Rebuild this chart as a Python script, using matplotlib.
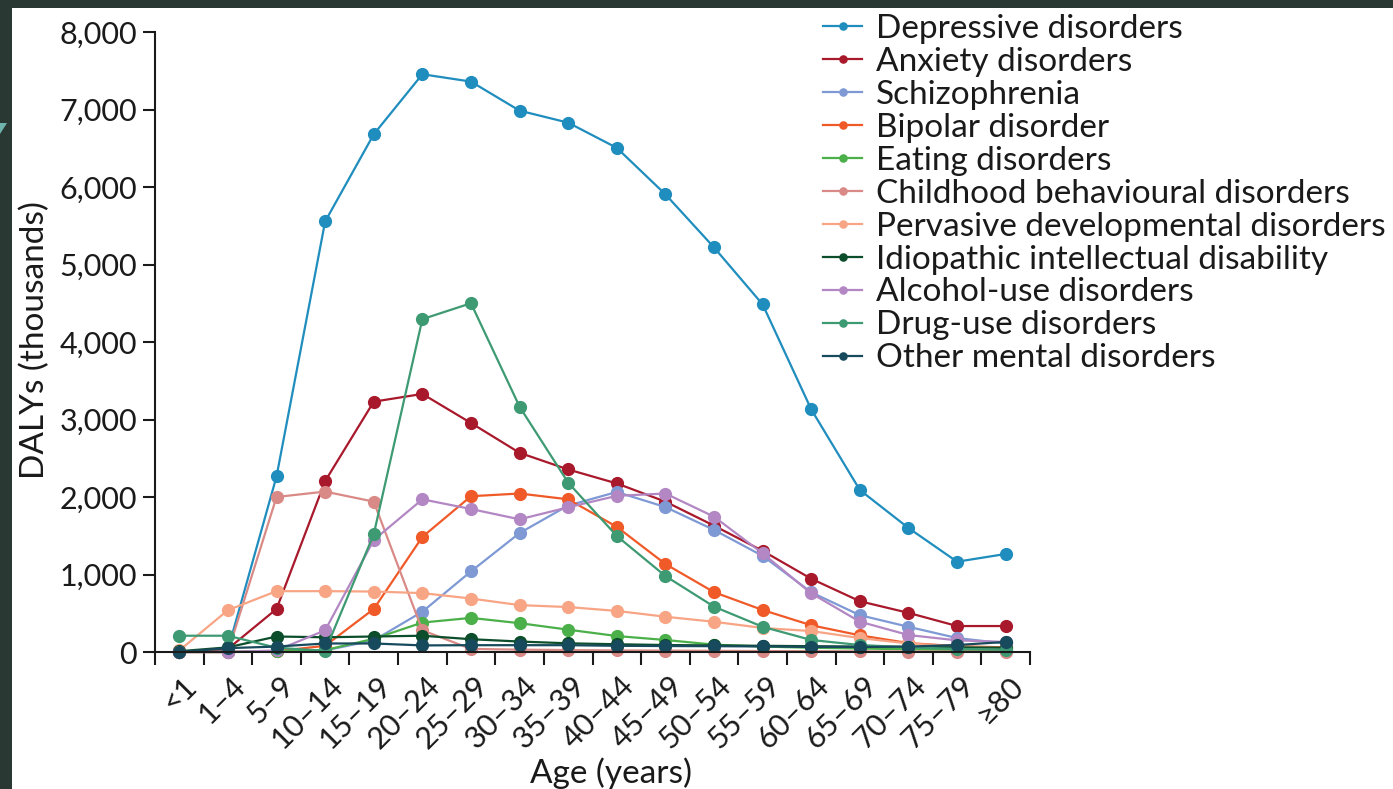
import numpy as np
import matplotlib
matplotlib.use("Agg")
import matplotlib.pyplot as plt
from matplotlib.patches import Rectangle, Polygon
from matplotlib.transforms import ScaledTranslation
from matplotlib.ticker import FuncFormatter

plt.rcParams['font.family'] = ['Lato', 'DejaVu Sans']

# Age groups
ages = ['<1', '1–4', '5–9', '10–14', '15–19', '20–24', '25–29', '30–34', '35–39',
        '40–44', '45–49', '50–54', '55–59', '60–64', '65–69', '70–74', '75–79', '≥80']

# DALYs (thousands) by disorder
depressive = [0, 30, 2265, 5555, 6680, 7455, 7360, 6985, 6830, 6505, 5905, 5220, 4485, 3130, 2090, 1600, 1165, 1265]
anxiety = [0, 40, 555, 2205, 3230, 3330, 2955, 2570, 2355, 2175, 1940, 1630, 1305, 945, 655, 505, 335, 335]
schizophrenia = [0, 0, 10, 20, 150, 520, 1040, 1535, 1890, 2065, 1870, 1575, 1240, 770, 475, 325, 180, 110]
bipolar = [0, 0, 10, 80, 555, 1485, 2010, 2045, 1970, 1615, 1135, 772, 542, 345, 215, 115, 75, 60]
eating = [0, 0, 10, 25, 170, 380, 440, 372, 288, 206, 155, 95, 70, 55, 45, 35, 25, 20]
childhood = [0, 0, 2000, 2070, 1940, 280, 40, 30, 25, 20, 18, 15, 12, 10, 8, 6, 5, 5]
pervasive = [20, 540, 785, 785, 780, 760, 690, 605, 580, 530, 455, 390, 310, 270, 180, 110, 70, 50]
idiopathic = [10, 60, 200, 190, 200, 210, 165, 135, 112, 100, 90, 85, 80, 75, 70, 65, 60, 55]
alcohol = [0, 0, 20, 280, 1445, 1970, 1845, 1712, 1867, 2015, 2045, 1746, 1273, 757, 391, 219, 150, 130]
drug = [210, 210, 55, 15, 1520, 4295, 4500, 3165, 2185, 1497, 980, 585, 325, 155, 90, 60, 40, 30]
other = [0, 50, 70, 110, 110, 85, 88, 88, 88, 80, 77, 75, 72, 65, 65, 70, 90, 130]

labels = ['Depressive disorders', 'Anxiety disorders', 'Schizophrenia', 'Bipolar disorder',
          'Eating disorders', 'Childhood behavioural disorders',
          'Pervasive developmental disorders', 'Idiopathic intellectual disability',
          'Alcohol-use disorders', 'Drug-use disorders', 'Other mental disorders']
colors = ['#1f8dbd', '#a8192c', '#7f99d5', '#f05a28', '#4cb04a', '#d98a86',
          '#f7a585', '#0c4d2b', '#b287c4', '#3d9a72', '#174a5c']
series = [depressive, anxiety, schizophrenia, bipolar, eating, childhood,
          pervasive, idiopathic, alcohol, drug, other]

W, H = 1393, 789
fig = plt.figure(figsize=(W / 100, H / 100), dpi=100)
fig.patch.set_facecolor('white')
ink = '#1a1a1a'

# dark frame along the top and left edges
frame = '#293833'
fig.add_artist(Rectangle((0, 1 - 8 / H), 1, 8 / H, transform=fig.transFigure,
                         facecolor=frame, edgecolor='none', zorder=0))
fig.add_artist(Rectangle((0, 0), 12 / W, 1, transform=fig.transFigure,
                         facecolor=frame, edgecolor='none', zorder=0))
fig.add_artist(Polygon([(0, 1 - 123 / H), (7 / W, 1 - 123 / H), (0, 1 - 134 / H)],
                       closed=True, transform=fig.transFigure,
                       facecolor='#6fb3ad', edgecolor='none', zorder=1))

ax = fig.add_axes([155 / W, 1 - 652 / H, (1030 - 155) / W, (652 - 32) / H])
x = np.arange(len(ages))
handles = []
for vals, col, lab in zip(series, colors, labels):
    h, = ax.plot(x, vals, '-o', color=col, lw=1.6, ms=9.5, mew=0,
                 clip_on=False, label=lab)
    handles.append(h)

ax.set_xlim(-0.5, len(ages) - 0.5)
ax.set_ylim(0, 8000)
for s in ['top', 'right']:
    ax.spines[s].set_visible(False)
for s in ['left', 'bottom']:
    ax.spines[s].set_linewidth(1.5)
    ax.spines[s].set_color(ink)

ax.set_yticks(np.arange(0, 8001, 1000))
ax.yaxis.set_major_formatter(FuncFormatter(lambda v, p: f'{int(v):,}'))
ax.tick_params(axis='y', length=9, width=1.5, labelsize=22, pad=4, colors=ink)

ax.set_xticks(x)
ax.set_xticklabels(ages)
ax.set_xticks(np.arange(-0.5, len(ages)), minor=True)
ax.tick_params(axis='x', which='major', length=0, pad=21, labelsize=22, colors=ink)
ax.tick_params(axis='x', which='minor', length=9, width=1.5, colors=ink)
shift = ScaledTranslation(13 / 100, 0, fig.dpi_scale_trans)
for t in ax.get_xticklabels():
    t.set_rotation(45)
    t.set_ha('right')
    t.set_va('center')
    t.set_rotation_mode('anchor')
    t.set_transform(t.get_transform() + shift)

fig.text(35 / W, 1 - 340 / H, 'DALYs (thousands)', rotation=90, ha='center',
         va='center', fontsize=24, color=ink)
fig.text(611 / W, 1 - 773 / H, 'Age (years)', ha='center', va='center',
         fontsize=24, color=ink)

fig.legend(handles=handles, loc='upper left', bbox_to_anchor=(823 / W, 1 - 14 / H),
           frameon=False, fontsize=24, handlelength=1.17, handletextpad=0.42,
           labelspacing=0.088, borderpad=0, borderaxespad=0, markerscale=0.65,
           labelcolor=ink)

fig.savefig('out.png', dpi=100, facecolor='white')
